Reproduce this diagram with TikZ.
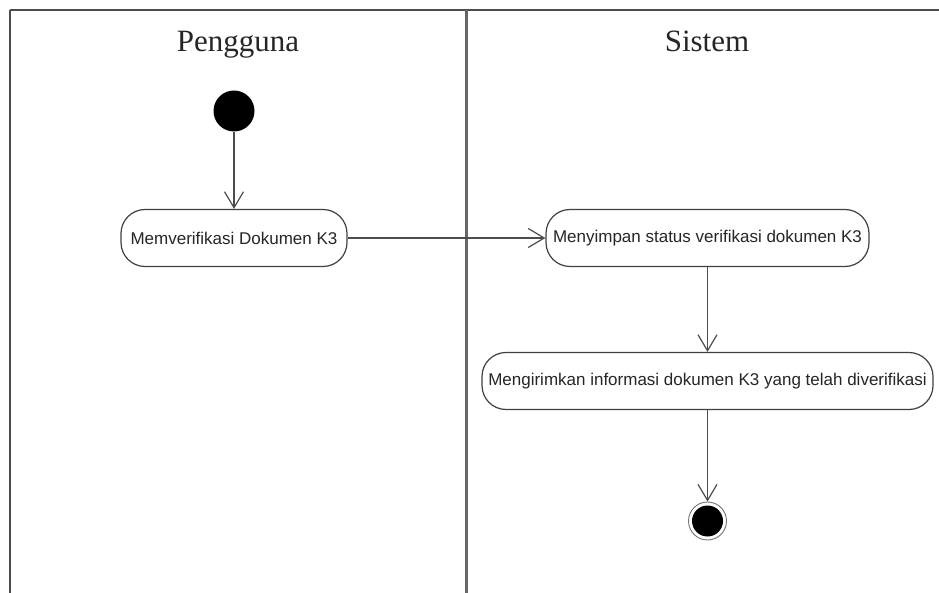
\documentclass[tikz,border=0pt]{standalone}
\usepackage{fontspec}
\setmainfont{Liberation Sans}
\newfontfamily\lanefont{Liberation Serif}
\usetikzlibrary{arrows.meta}

\tikzset{
  lane/.style={font=\lanefont\fontsize{31}{36}\selectfont, text=black!85, anchor=base},
  action/.style={draw=black!75, line width=1.2pt, rounded corners=24pt, fill=white,
    minimum height=57pt, inner sep=0pt, font=\fontsize{17}{20}\selectfont, text=black!85},
  initstate/.style={circle, fill=black, minimum size=41pt, inner sep=0pt},
  finalstate/.style={circle, draw=black!55, line width=0.9pt, minimum size=38pt, inner sep=0pt,
    path picture={\fill[black] (path picture bounding box.center) circle (15.5pt);}},
  flow/.style={draw=black!70, line width=1.2pt, -{Straight Barb[length=16pt,width=19pt]}},
}

\begin{document}
\begin{tikzpicture}[x=1pt, y=-1pt]
  \useasboundingbox (0,0) rectangle (939,593);
  % swimlanes
  \draw[black!70, line width=2pt] (10,10) -- (939,10);
  \draw[black!70, line width=2pt] (10,10) -- (10,593);
  \draw[black!60, line width=3pt] (466,10) -- (466,593);
  \node[lane] (pengguna) at (238,52) {Pengguna};
  \node[lane] (sistem) at (707,52) {Sistem};

  % states and actions
  \node[initstate] (start) at (234,111) {};
  \node[action, minimum width=226pt] (verif) at (234,238) {Memverifikasi Dokumen K3};
  \node[action, minimum width=323pt] (simpan) at (707.5,238) {Menyimpan status verifikasi dokumen K3};
  \node[action, minimum width=451pt] (kirim) at (707.5,381) {Mengirimkan informasi dokumen K3 yang telah diverifikasi};
  \node[finalstate] (end) at (707.5,521) {};

  % flows
  \draw[flow] (start) -- (verif);
  \draw[flow] (verif) -- (simpan);
  \draw[flow] (simpan) -- (kirim);
  \draw[flow] (kirim) -- (end);
\end{tikzpicture}
\end{document}
